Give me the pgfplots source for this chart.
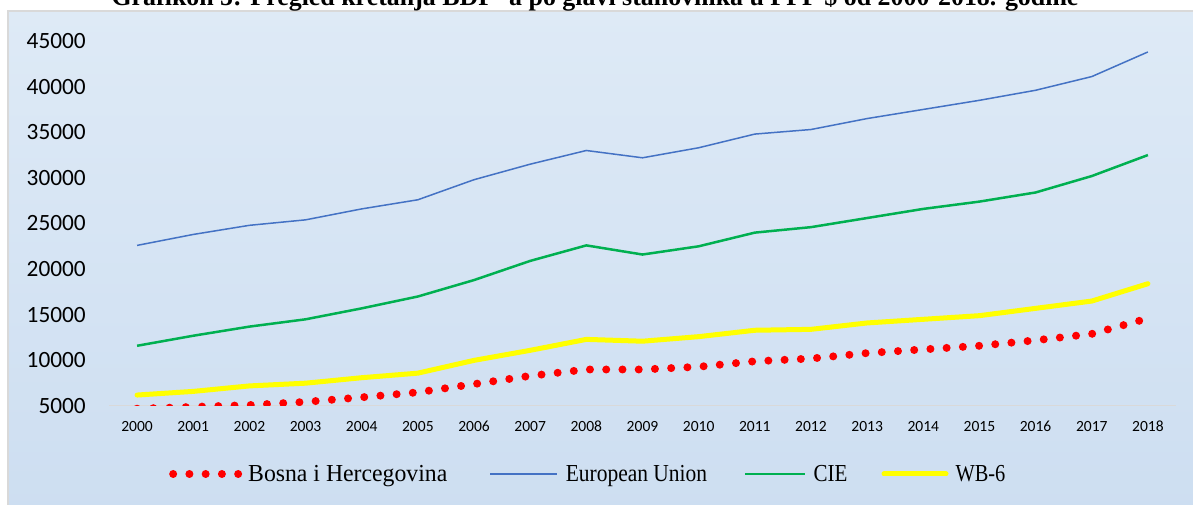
\documentclass[border=0pt]{standalone}
\usepackage{pgfplots}
\pgfplotsset{compat=1.18}
\usepackage{graphicx}
\usepackage{fontspec}
\setmainfont{Liberation Serif}
\newfontfamily\calibri{Carlito}
\definecolor{eublue}{HTML}{4472C4}
\definecolor{ciegreen}{HTML}{00B050}
\definecolor{wbyellow}{HTML}{FFFF00}
\definecolor{bihred}{HTML}{FF0000}
\definecolor{bgtop}{RGB}{222,234,246}
\definecolor{bgbot}{RGB}{205,222,241}
\definecolor{boxgray}{RGB}{217,217,217}
\definecolor{axgray}{RGB}{217,217,217}
\begin{document}
\begin{tikzpicture}
\useasboundingbox (0,0) rectangle (1193bp,505bp);
\shade[top color=bgtop, bottom color=bgbot] (8bp,-10bp) rectangle (1205bp,494bp);
\draw[line width=2bp, color=boxgray] (8bp,-10bp) -- (8bp,494bp) -- (1205bp,494bp);
\node[font=\fontsize{26}{30}\selectfont\bfseries, anchor=base, inner sep=0pt] at (595bp,499bp) {Grafikon 5: Pregled kretanja BDP -a po glavi stanovnika u PPP \$ od 2000-2018. godine};
\begin{axis}[
  at={(109bp,99bp)}, anchor=south west,
  scale only axis, width=1067bp, height=365bp,
  xmin=-0.5, xmax=18.5, ymin=5000, ymax=45000,
  xtick={0,...,18},
  xticklabels={2000,2001,2002,2003,2004,2005,2006,2007,2008,2009,2010,2011,2012,2013,2014,2015,2016,2017,2018},
  ytick={5000,10000,...,45000},
  axis line style={draw=none},
  major tick length=0pt,
  tick style={draw=none},
  /pgf/number format/assume math mode=true,
  scaled y ticks=false,
  yticklabel={\pgfmathprintnumber[fixed,precision=0,1000 sep={}]{\tick}},
  yticklabel style={font=\calibri\fontsize{23.4}{26}\selectfont, anchor=east, inner sep=0pt, xshift=-23bp},
  xticklabel style={font=\calibri\fontsize{15.6}{18}\selectfont, anchor=base, inner sep=0pt, yshift=-25.7bp},
  legend columns=4,
  legend style={at={(axis description cs:0.0562,-0.1863)}, anchor=west, draw=none, fill=none, inner sep=0pt,
    font=\fontsize{24.5}{28}\selectfont, nodes={inner sep=0pt}, cells={inner sep=0pt},
    /tikz/column 1/.append style={column sep=6bp},
    /tikz/column 2/.append style={column sep=42bp},
    /tikz/column 3/.append style={column sep=8bp},
    /tikz/column 4/.append style={column sep=37bp},
    /tikz/column 5/.append style={column sep=7bp},
    /tikz/column 6/.append style={column sep=34bp},
    /tikz/column 7/.append style={column sep=7bp}},
  legend cell align=left,
]
\draw[axgray, line width=2bp] (rel axis cs:0,0) -- (rel axis cs:1,0);
\addplot[bihred, line width=8bp, line cap=round, dash pattern=on 0bp off 16.25bp,
  legend image code/.code={%
    \path[fill=bihred, draw=none] (0bp,0bp) circle[radius=4bp];
    \path[fill=bihred, draw=none] (16.25bp,0bp) circle[radius=4bp];
    \path[fill=bihred, draw=none] (32.5bp,0bp) circle[radius=4bp];
    \path[fill=bihred, draw=none] (48.75bp,0bp) circle[radius=4bp];
    \path[fill=bihred, draw=none] (65bp,0bp) circle[radius=4bp];}]
  coordinates {(0,4700) (1,4900) (2,5100) (3,5450) (4,5950) (5,6500) (6,7400) (7,8300) (8,9000) (9,9000) (10,9300) (11,9900) (12,10200) (13,10800) (14,11200) (15,11600) (16,12200) (17,12900) (18,14600)};
\addlegendentry{\scalebox{0.973}[1]{Bosna i Hercegovina}}
\addplot[eublue, line width=1.5bp,
  legend image code/.code={\draw[eublue, line width=1.5bp] (0bp,0bp) -- (67bp,0bp);}]
  coordinates {(0,22600) (1,23800) (2,24800) (3,25400) (4,26600) (5,27600) (6,29800) (7,31500) (8,33000) (9,32200) (10,33300) (11,34800) (12,35300) (13,36500) (14,37500) (15,38500) (16,39600) (17,41100) (18,43800)};
\addlegendentry{\scalebox{0.88}[1]{European Union}}
\addplot[ciegreen, line width=2.5bp,
  legend image code/.code={\draw[ciegreen, line width=2.5bp] (0bp,0bp) -- (60bp,0bp);}]
  coordinates {(0,11600) (1,12700) (2,13700) (3,14500) (4,15700) (5,17000) (6,18800) (7,20900) (8,22600) (9,21600) (10,22500) (11,24000) (12,24600) (13,25600) (14,26600) (15,27400) (16,28400) (17,30200) (18,32500)};
\addlegendentry{\scalebox{0.86}[1]{CIE}}
\addplot[wbyellow, line width=5bp, line cap=round,
  legend image code/.code={\path (0bp,0bp) -- (62bp,0bp); \draw[wbyellow, line width=5bp, line cap=round] (2.5bp,0bp) -- (59.5bp,0bp);}]
  coordinates {(0,6200) (1,6600) (2,7200) (3,7500) (4,8100) (5,8600) (6,10000) (7,11100) (8,12300) (9,12100) (10,12600) (11,13300) (12,13400) (13,14100) (14,14500) (15,14900) (16,15700) (17,16500) (18,18400)};
\addlegendentry{\scalebox{0.835}[1]{WB-6}}
\end{axis}
\end{tikzpicture}
\end{document}
